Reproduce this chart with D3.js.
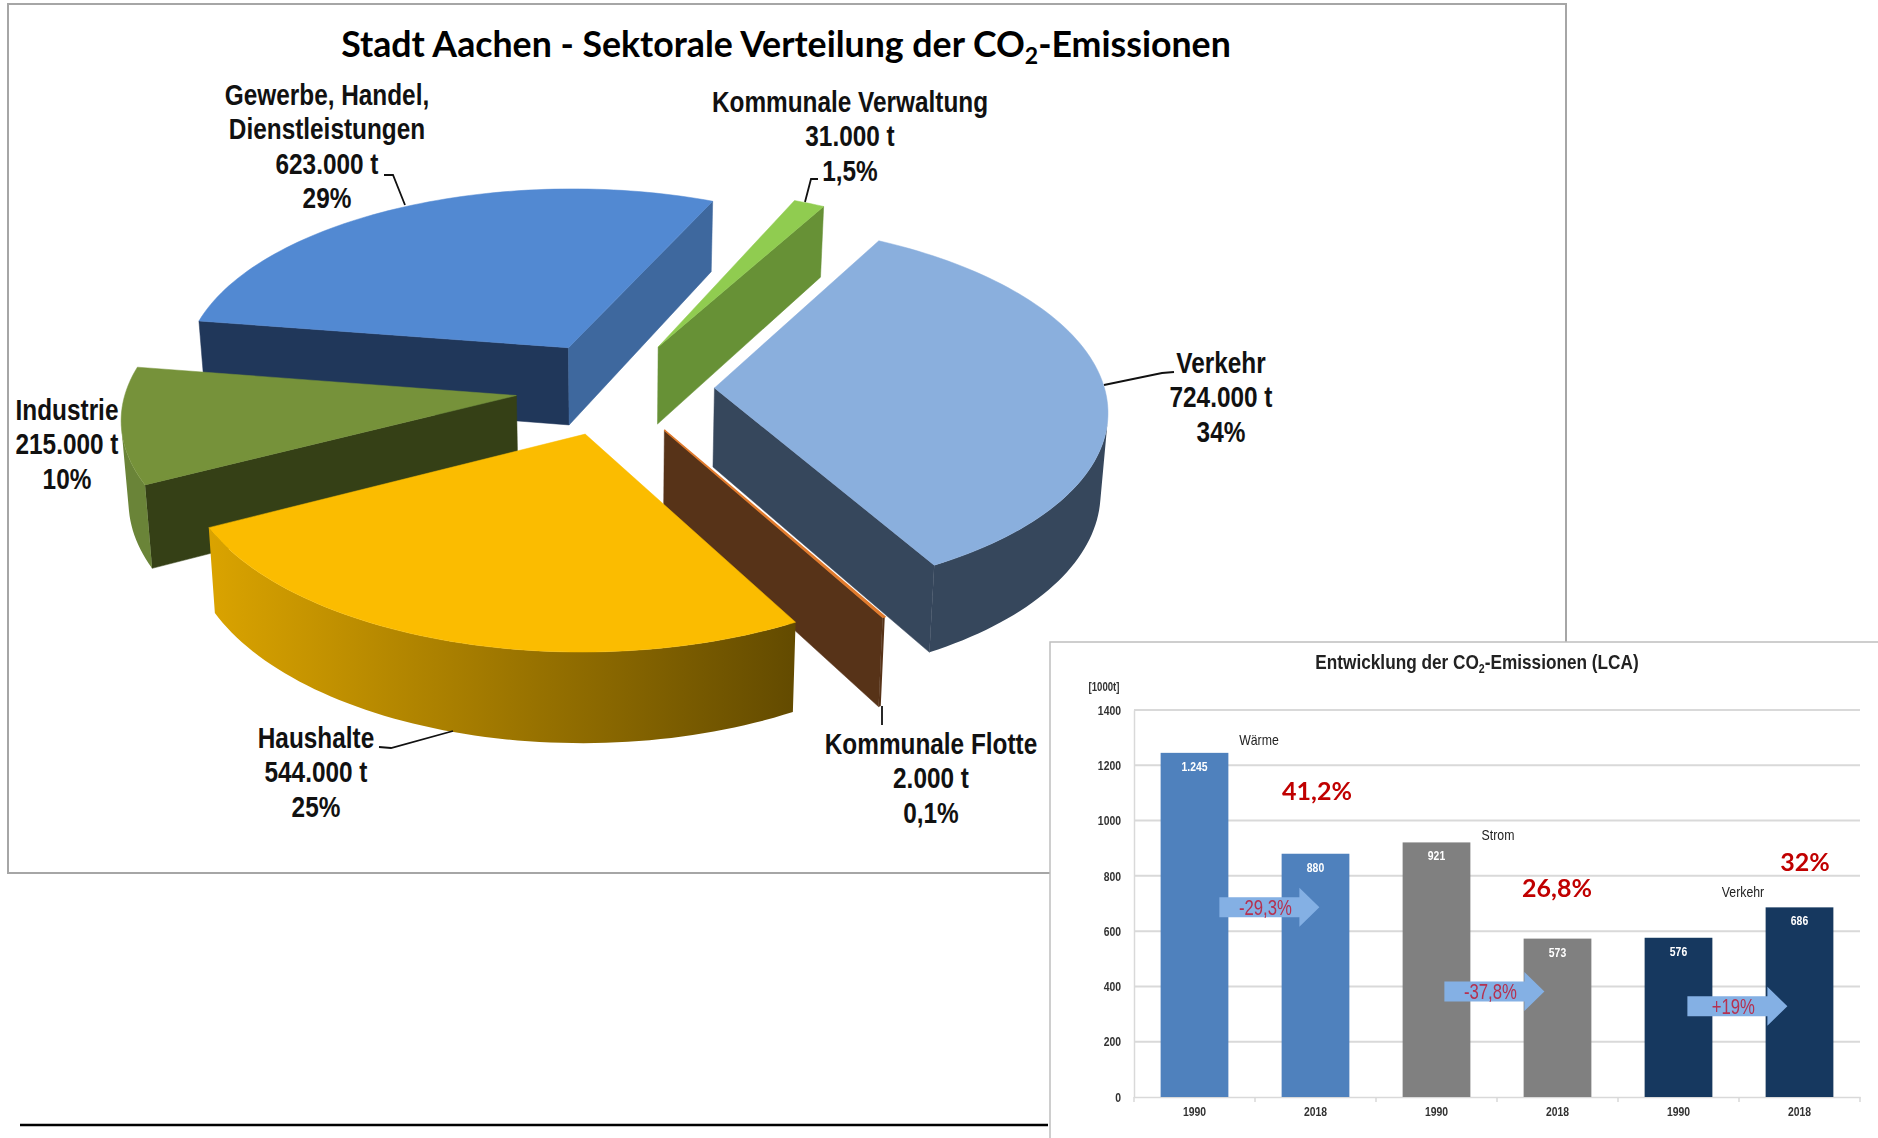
<!DOCTYPE html>
<html>
<head>
<meta charset="utf-8">
<title>Stadt Aachen - CO2-Emissionen</title>
<script src="https://cdn.jsdelivr.net/npm/d3@7"></script>
<style>
  html, body { margin: 0; background: #fff; }
  svg { display: block; }
  text { font-family: "Liberation Sans", sans-serif; }
</style>
</head>
<body>
<div id="chart"></div>
<script>
// pie: t CO2 per sector, clockwise from Verkehr
const sectors = ["Verkehr", "Kommunale Flotte", "Haushalte", "Industrie", "Gewerbe, Handel, Dienstleistungen", "Kommunale Verwaltung"];
const tonnes = [724000, 2000, 544000, 215000, 623000, 31000];
const shares = ["34%", "0,1%", "25%", "10%", "29%", "1,5%"];

// bars: 1000 t per group and year
const groups = ["Wärme", "Strom", "Verkehr"];
const years = ["1990", "2018"];
const barValues = [1245, 880, 921, 573, 576, 686];
const barLabels = ["1.245", "880", "921", "573", "576", "686"];
const changes = ["-29,3%", "-37,8%", "+19%"];
const arrowLevels = [686, 382, 328];
const sharePercents = ["41,2%", "26,8%", "32%"];
const yTicks = [0, 200, 400, 600, 800, 1000, 1200, 1400];

const width = 1878, height = 1138;
const svg = d3.select("#chart").append("svg").attr("width", width).attr("height", height);

const defs = svg.append("defs");
defs.append("filter").attr("id", "soft").attr("x", "-5%").attr("y", "-5%").attr("width", "110%").attr("height", "110%")
  .append("feGaussianBlur").attr("stdDeviation", 0.45);

const rimYellow = defs.append("linearGradient").attr("id", "rimYellow")
  .attr("gradientUnits", "userSpaceOnUse").attr("x1", 205).attr("x2", 800).attr("y1", 0).attr("y2", 0);
rimYellow.append("stop").attr("offset", 0).attr("stop-color", "#dba400");
rimYellow.append("stop").attr("offset", 1).attr("stop-color", "#624a00");

// no narrow face installed, so condense the text to its measured width
function squeeze(sel, k) {
  sel.each(function () {
    this.setAttribute("textLength", this.getComputedTextLength() * k);
    this.setAttribute("lengthAdjust", "spacingAndGlyphs");
  });
}

// main panel frame and the black rule under it
svg.append("rect").attr("x", 8).attr("y", 4).attr("width", 1558).attr("height", 869)
  .attr("fill", "#fff").attr("stroke", "#a6a6a6").attr("stroke-width", 2);
svg.append("line").attr("x1", 20).attr("x2", 1048).attr("y1", 1125).attr("y2", 1125)
  .attr("stroke", "#000").attr("stroke-width", 2.5);

svg.append("text").attr("x", 786).attr("y", 57).attr("text-anchor", "middle")
  .style("font-family", "Lato").attr("font-weight", 700).attr("font-size", 35.7)
  .call(t => {
    t.append("tspan").text("Stadt Aachen - Sektorale Verteilung der CO");
    t.append("tspan").attr("font-size", 23).attr("dy", 7).text("2");
    t.append("tspan").attr("dy", -7).text("-Emissionen");
  });

// ---- 3D pie ----
const pieCfg = {
  cx: 615, cy: 388,
  a: 390, b: 184, c: 0.107,
  explode: 0.255,
  depth: 79,
  startDeg: 29,
};

const sliceStyle = [
  { top: "#8aafdd", startWall: "#36475c", endWall: "#36475c", rim: "#36475c" },
  { top: "#e07b2e", startWall: "#573318", endWall: "#573318", rim: "#573318" },
  { top: "#fbbc00", startWall: "#a07c00", endWall: "#a07c00", rim: "url(#rimYellow)" },
  { top: "#76923a", startWall: "#354016", endWall: "#354016", rim: "#6a8438" },
  { top: "#5289d2", startWall: "#20375a", endWall: "#3e689e", rim: "#20375a" },
  { top: "#90cc50", startWall: "#679136", endWall: "#679136", rim: "#679136" },
];
// far slices first, near slices over them
const paintOrder = [4, 5, 0, 3, 1, 2];

const pie = d3.pie().sort(null)
  .startAngle(pieCfg.startDeg * Math.PI / 180)
  .endAngle(pieCfg.startDeg * Math.PI / 180 + 2 * Math.PI);
const arcs = pie(tonnes);

function project(x, z, ht) {
  const w = 1 + pieCfg.c * z;
  const shrink = 1 - 0.015 * ht;
  return [
    pieCfg.cx + pieCfg.a * x / w * shrink,
    pieCfg.cy - pieCfg.b * z / w + pieCfg.depth * ht / w,
  ];
}

function slicePoint(arc, phi, r, ht) {
  const mid = (arc.startAngle + arc.endAngle) / 2;
  const e = pieCfg.explode;
  return project(e * Math.sin(mid) + r * Math.sin(phi), e * Math.cos(mid) + r * Math.cos(phi), ht);
}

const pieG = svg.append("g");
const line = d3.line();

paintOrder.forEach(i => {
  const arc = arcs[i], st = sliceStyle[i];
  const g = pieG.append("g").attr("class", "slice");
  const apexT = slicePoint(arc, 0, 0, 0), apexB = slicePoint(arc, 0, 0, 1);
  const steps = d3.range(0, 1.0001, 1 / Math.max(2, Math.ceil((arc.endAngle - arc.startAngle) / 0.025)))
    .map(t => arc.startAngle + t * (arc.endAngle - arc.startAngle));

  // start and end walls, only when they face the viewer
  const startQuad = [apexT, slicePoint(arc, arc.startAngle, 1, 0), slicePoint(arc, arc.startAngle, 1, 1), apexB];
  const endQuad = [slicePoint(arc, arc.endAngle, 1, 0), apexT, apexB, slicePoint(arc, arc.endAngle, 1, 1)];
  if (d3.polygonArea(startQuad) > 0) {
    g.append("path").attr("d", line(startQuad) + "Z").attr("fill", st.startWall).attr("stroke", st.startWall).attr("stroke-width", 0.5);
  }

  // rim: keep the strips that face the viewer, draw them as one shape
  const rimSteps = d3.pairs(steps).filter(([p0, p1]) => d3.polygonArea([
    slicePoint(arc, p0, 1, 0), slicePoint(arc, p1, 1, 0), slicePoint(arc, p1, 1, 1), slicePoint(arc, p0, 1, 1),
  ]) > 0);
  if (rimSteps.length) {
    const phis = [rimSteps[0][0]].concat(rimSteps.map(s => s[1]));
    const rim = phis.map(p => slicePoint(arc, p, 1, 0)).concat(phis.slice().reverse().map(p => slicePoint(arc, p, 1, 1)));
    g.append("path").attr("d", line(rim) + "Z").attr("fill", st.rim);
  }

  if (d3.polygonArea(endQuad) > 0) {
    g.append("path").attr("d", line(endQuad) + "Z").attr("fill", st.endWall).attr("stroke", st.endWall).attr("stroke-width", 0.5);
  }

  // top face
  const topFace = [apexT].concat(steps.map(p => slicePoint(arc, p, 1, 0)));
  g.append("path").attr("d", line(topFace) + "Z").attr("fill", st.top)
    .attr("stroke", st.top).attr("stroke-width", arc.endAngle - arc.startAngle < 0.02 ? 1.6 : 0.5);
});

// leader lines
const leaders = [
  [[1174, 372], [1162, 373], [1104, 385]],
  [[882, 706], [882, 725]],
  [[379, 747], [391, 748], [453, 731]],
  null,
  [[384, 175], [393, 175], [405, 205]],
  [[818, 179], [811, 179], [805, 202]],
];
pieG.selectAll("path.leader").data(leaders.filter(Boolean)).join("path").attr("class", "leader")
  .attr("d", line).attr("fill", "none").attr("stroke", "#111").attr("stroke-width", 1.8);

// sector labels, split in lines
const fmtT = v => d3.format(",")(v).replace(/,/g, ".") + " t";
const sectorLines = [
  [sectors[0]],
  [sectors[1]],
  [sectors[2]],
  [sectors[3]],
  ["Gewerbe, Handel,", "Dienstleistungen"],
  [sectors[5]],
];
const labelPos = [
  { x: 1221, y: 373 }, { x: 931, y: 754 }, { x: 316, y: 748 },
  { x: 67, y: 420 }, { x: 327, y: 105 }, { x: 850, y: 112 },
];
sectorLines.forEach((ls, i) => {
  ls.concat([fmtT(tonnes[i]), shares[i]]).forEach((s, k) => {
    svg.append("text").attr("x", labelPos[i].x).attr("y", labelPos[i].y + k * 34.4)
      .attr("text-anchor", "middle").attr("font-weight", 700).attr("font-size", 29).attr("fill", "#111")
      .text(s).call(squeeze, 0.84);
  });
});

// ---- inset bar chart ----
const insetBox = { x: 1050, y: 642 };
svg.append("rect").attr("x", insetBox.x).attr("y", insetBox.y).attr("width", width - insetBox.x + 4).attr("height", height - insetBox.y + 4)
  .attr("fill", "#fff").attr("stroke", "#bfbfbf").attr("stroke-width", 1.5);

const inset = svg.append("g").attr("filter", "url(#soft)");
const groupColors = ["#4f81bd", "#808080", "#17375e"];
const plotL = 1134, plotR = 1860;

const x = d3.scaleBand().domain(d3.range(barValues.length)).range([plotL, plotR]).paddingInner(0.44).paddingOuter(0.22);
const y = d3.scaleLinear().domain([0, 1400]).range([1097, 710]);

inset.append("g").selectAll("line").data(yTicks.slice(1)).join("line")
  .attr("x1", plotL).attr("x2", plotR).attr("y1", y).attr("y2", y)
  .attr("stroke", "#d9d9d9").attr("stroke-width", 2);

const yAxis = d3.axisLeft(y).tickValues(yTicks).tickFormat(d3.format("d")).tickSize(0).tickPadding(13);
inset.append("g").attr("transform", `translate(${plotL},0)`).call(yAxis)
  .call(g => g.select(".domain").attr("stroke", "#d9d9d9").attr("stroke-width", 1.5))
  .call(g => g.selectAll("text").attr("font-size", 13).attr("font-weight", 700).attr("fill", "#333").call(squeeze, 0.8));

const xAxis = d3.axisBottom(x).tickFormat(i => years[i % 2]).tickSize(0).tickPadding(10);
inset.append("g").attr("transform", `translate(0,${y(0)})`).call(xAxis)
  .call(g => g.select(".domain").attr("stroke", "#d9d9d9").attr("stroke-width", 1.5))
  .call(g => g.selectAll("text").attr("font-size", 13).attr("font-weight", 700).attr("fill", "#333").call(squeeze, 0.8));
inset.append("g").selectAll("line").data(d3.range(barValues.length + 1)).join("line")
  .attr("x1", d => plotL + d * x.step()).attr("x2", d => plotL + d * x.step())
  .attr("y1", y(0)).attr("y2", y(0) + 5).attr("stroke", "#d9d9d9").attr("stroke-width", 1.5);

inset.append("g").selectAll("rect").data(barValues).join("rect")
  .attr("x", (d, i) => x(i)).attr("y", d => y(d))
  .attr("width", x.bandwidth()).attr("height", d => y(0) - y(d))
  .attr("fill", (d, i) => groupColors[Math.floor(i / 2)]);

inset.append("g").selectAll("text").data(barValues).join("text")
  .attr("x", (d, i) => x(i) + x.bandwidth() / 2).attr("y", d => y(d) + 18)
  .attr("text-anchor", "middle").attr("font-size", 13).attr("font-weight", 700).attr("fill", "#fff")
  .text((d, i) => barLabels[i]).call(squeeze, 0.8);

// arrows between the two bars of a group
const arrow = (xs, yc, len) => [
  [xs, yc - 10], [xs + len - 20, yc - 10], [xs + len - 20, yc - 19.5], [xs + len, yc],
  [xs + len - 20, yc + 19.5], [xs + len - 20, yc + 10], [xs, yc + 10],
];
const arrowBack = [9, 26, 25];
changes.forEach((s, i) => {
  const xs = x(i * 2) + x.bandwidth() - arrowBack[i], yc = y(arrowLevels[i]);
  inset.append("path").attr("d", line(arrow(xs, yc, 100)) + "Z").attr("fill", "#84b0e4");
  inset.append("text").attr("x", xs + 46).attr("y", yc + 8).attr("text-anchor", "middle")
    .attr("font-size", 22).attr("fill", "#b5304f").text(s).call(squeeze, 0.76);
});

const groupLabelPos = [[1259, 745], [1498, 840], [1743, 897]];
groups.forEach((s, i) => {
  inset.append("text").attr("x", groupLabelPos[i][0]).attr("y", groupLabelPos[i][1])
    .attr("text-anchor", "middle").attr("font-size", 15).attr("fill", "#222").text(s).call(squeeze, 0.82);
});

const sharePos = [[1317, 800], [1557, 897], [1805, 871]];
sharePercents.forEach((s, i) => {
  inset.append("text").attr("x", sharePos[i][0]).attr("y", sharePos[i][1]).attr("text-anchor", "middle")
    .style("font-family", "Lato").attr("font-weight", 700).attr("font-size", 25).attr("fill", "#c00000").text(s);
});

inset.append("text").attr("x", 1104).attr("y", 691).attr("text-anchor", "middle")
  .attr("font-size", 12).attr("font-weight", 700).attr("fill", "#333").text("[1000t]").call(squeeze, 0.8);

// scaled as a whole so the subscript stays in line
inset.append("text").attr("transform", "translate(1477,669) scale(0.82,1)").attr("text-anchor", "middle")
  .attr("font-size", 21).attr("font-weight", 700).attr("fill", "#222")
  .call(t => {
    t.append("tspan").text("Entwicklung der CO");
    t.append("tspan").attr("font-size", 13).attr("dy", 4).text("2");
    t.append("tspan").attr("dy", -4).text("-Emissionen (LCA)");
  });
</script>
</body>
</html>
